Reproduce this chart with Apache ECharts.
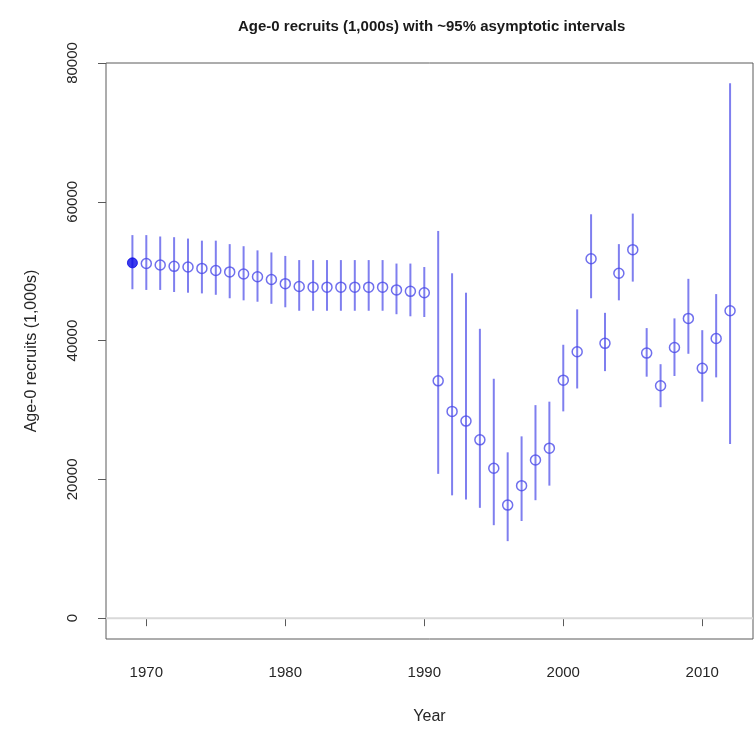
<!DOCTYPE html>
<html>
<head>
<meta charset="utf-8">
<title>Age-0 recruits</title>
<script src="https://cdn.jsdelivr.net/npm/echarts@6/dist/echarts.min.js"></script>
<style>
  html, body { margin: 0; padding: 0; background: #fff; }
  #chart { width: 756px; height: 731px; }
</style>
</head>
<body>
<div id="chart"></div>
<script>
// Recruitment estimates (1,000s of age-0 fish) with ~95% asymptotic bounds
const years = [1969, 1970, 1971, 1972, 1973, 1974, 1975, 1976, 1977, 1978, 1979,
  1980, 1981, 1982, 1983, 1984, 1985, 1986, 1987, 1988, 1989, 1990,
  1991, 1992, 1993, 1994, 1995, 1996, 1997, 1998, 1999, 2000,
  2001, 2002, 2003, 2004, 2005, 2006, 2007, 2008, 2009, 2010, 2011, 2012];
const recruits = [51200, 51100, 50900, 50700, 50600, 50400, 50100, 49900, 49600, 49200, 48800,
  48200, 47800, 47700, 47700, 47700, 47700, 47700, 47700, 47300, 47100, 46900,
  34200, 29800, 28400, 25700, 21600, 16300, 19100, 22800, 24500, 34300,
  38400, 51800, 39600, 49700, 53100, 38200, 33500, 39000, 43200, 36000, 40300, 44300];
const upper = [55200, 55200, 55000, 54900, 54700, 54400, 54400, 53900, 53600, 53000, 52700,
  52200, 51600, 51600, 51600, 51600, 51600, 51600, 51600, 51100, 51100, 50600,
  55800, 49700, 46900, 41700, 34500, 23900, 26200, 30700, 31200, 39400,
  44500, 58200, 44000, 53900, 58300, 41800, 36600, 43200, 48900, 41500, 46700, 77100];
const lower = [47400, 47300, 47300, 47000, 46900, 46800, 46600, 46100, 45800, 45600, 45300,
  44800, 44300, 44300, 44300, 44300, 44300, 44300, 44300, 43800, 43500, 43400,
  20800, 17700, 17100, 15900, 13400, 11100, 14000, 17000, 19100, 29800,
  33100, 46100, 35600, 45800, 48500, 34800, 30400, 34900, 38100, 31200, 34700, 25100];
const xTicks = [1970, 1980, 1990, 2000, 2010];
const yTicks = [0, 20000, 40000, 60000, 80000];

const intervalData = years.map((y, i) => [y, lower[i], upper[i]]);
const firstPoint = [[years[0], recruits[0]]];
const otherPoints = years.slice(1).map((y, i) => [y, recruits[i + 1]]);

const textColor = '#262626';
const fontFamily = 'Liberation Sans, Arial, sans-serif';
const plain = v => String(v);

const chart = echarts.init(document.getElementById('chart'), null, { renderer: 'canvas' });
chart.setOption({
  animation: false,
  backgroundColor: '#ffffff',
  title: {
    text: 'Age-0 recruits (1,000s) with ~95% asymptotic intervals',
    left: 233,
    top: 14,
    textStyle: { fontFamily, fontSize: 15, fontWeight: 'bold', color: '#1a1a1a' }
  },
  grid: {
    left: 106, right: 3, top: 63, bottom: 92,
    show: true, borderColor: '#5a5a5a', borderWidth: 1, backgroundColor: 'transparent'
  },
  xAxis: {
    type: 'value',
    min: 1967.1,
    max: 2013.65,
    name: 'Year',
    nameLocation: 'middle',
    nameGap: 70,
    nameTextStyle: { fontFamily, fontSize: 16, color: textColor },
    axisLine: { show: false },
    splitLine: { show: false },
    axisTick: { show: true, length: 8, lineStyle: { color: '#5a5a5a' }, customValues: xTicks },
    axisLabel: { fontFamily, fontSize: 15, color: textColor, margin: 26, formatter: plain, customValues: xTicks }
  },
  yAxis: {
    type: 'value',
    min: -3000,
    max: 80000,
    name: 'Age-0 recruits (1,000s)',
    nameLocation: 'middle',
    nameGap: 66,
    nameRotate: 90,
    nameTextStyle: { fontFamily, fontSize: 16, color: textColor },
    axisLine: { show: false },
    splitLine: { show: false },
    axisTick: { show: true, length: 8, lineStyle: { color: '#5a5a5a' }, customValues: yTicks },
    axisLabel: { fontFamily, fontSize: 15, color: textColor, margin: 26, rotate: 90, formatter: plain, customValues: yTicks }
  },
  series: [
    {
      type: 'line',
      data: [[1967.1, 0], [2013.65, 0]],
      symbol: 'none',
      silent: true,
      z: 1,
      lineStyle: { color: '#d9d9d9', width: 2 }
    },
    {
      type: 'custom',
      data: intervalData,
      z: 2,
      renderItem: function (params, api) {
        const x = api.value(0);
        const lo = api.coord([x, api.value(1)]);
        const hi = api.coord([x, api.value(2)]);
        return {
          type: 'line',
          shape: { x1: lo[0], y1: lo[1], x2: hi[0], y2: hi[1] },
          style: { stroke: '#7f7fef', lineWidth: 2 }
        };
      }
    },
    {
      type: 'scatter',
      data: otherPoints,
      symbol: 'circle',
      symbolSize: 10,
      z: 3,
      itemStyle: { color: 'rgba(255,255,255,0)', borderColor: '#4b4be8', borderWidth: 1.5 }
    },
    {
      type: 'scatter',
      data: firstPoint,
      symbol: 'circle',
      symbolSize: 10,
      z: 3,
      itemStyle: { color: '#0a0ae6', borderColor: '#0a0ae6', borderWidth: 1 }
    }
  ]
});
</script>
</body>
</html>
